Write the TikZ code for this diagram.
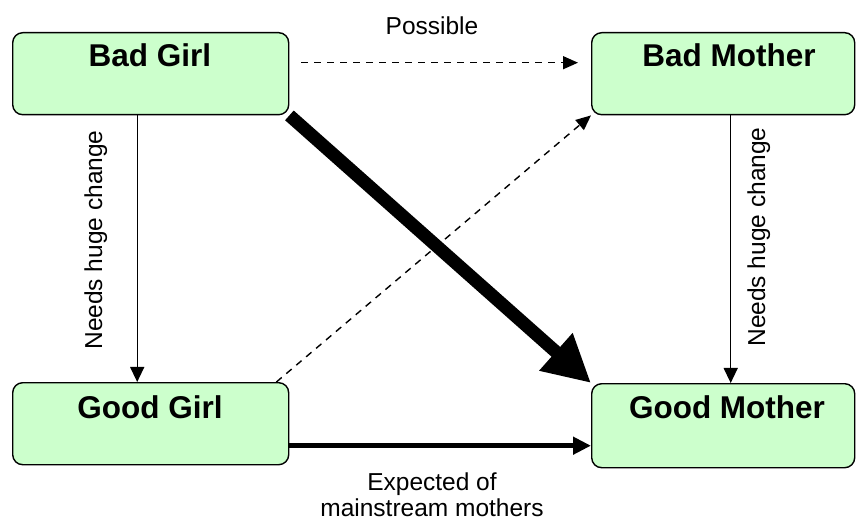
\documentclass[tikz,border=0pt]{standalone}
\usepackage{fontspec}
\setmainfont{Liberation Sans}
\usetikzlibrary{arrows.meta,calc}
\definecolor{boxgreen}{HTML}{CCFFCC}
\begin{document}
\begin{tikzpicture}[x=1pt,y=1pt,
  box/.style={draw=black, line width=1.4pt, fill=boxgreen, rounded corners=10pt,
              inner sep=0pt, anchor=north west},
  title/.style={font=\fontsize{31.5}{36}\selectfont\bfseries, anchor=base, inner sep=0pt},
  lbl/.style={font=\fontsize{24.5}{26.7}\selectfont, inner sep=0pt},
  plainarrow/.style={line width=1.4pt, -{Triangle[length=15pt,width=14pt]}},
  dasharrow/.style={line width=1.4pt, dash pattern=on 7pt off 6pt,
                    -{Triangle[length=15pt,width=13pt]}},
  heavyarrow/.style={line width=13pt, -{Triangle[length=47pt,width=47pt]}},
  boldarrow/.style={line width=4.5pt, -{Triangle[length=18pt,width=17pt]}}
]
\useasboundingbox (0,0) rectangle (857,-521);

% the four states
\node[box, minimum width=276pt, minimum height=82pt] (bg) at (12,-32) {};
\node[box, minimum width=263pt, minimum height=82pt] (bm) at (591,-32) {};
\node[box, minimum width=276pt, minimum height=82pt] (gg) at (12,-382) {};
\node[box, minimum width=263pt, minimum height=84pt] (gm) at (591,-383) {};

\node[title] (bgt) at (150,-67) {Bad Girl};
\node[title] (bmt) at (729,-67) {Bad Mother};
\node[title] (ggt) at (150,-418) {Good Girl};
\node[title] (gmt) at (727,-418) {Good Mother};

% connector end points
\coordinate (bgdown) at ($(bg.south)+(-13.5,0)$);
\coordinate (bmdown) at ($(bm.south)+(7.5,0)$);
\coordinate (possA) at ($(bg.east)+(12,11)$);
\coordinate (possB) at ($(bm.west)+(-13,11)$);
\coordinate (ggcorner) at ($(gg.north east)+(-13,0)$);
\coordinate (expA) at ($(gg.east)+(0,-22)$);

% connectors
\draw[dasharrow] (possA) -- (possB);
\draw[plainarrow] (bgdown) -- (bgdown |- gg.north);
\draw[plainarrow] (bmdown) -- (bmdown |- gm.north);
\draw[dasharrow] (ggcorner) -- (bm.south west);
\draw[heavyarrow] (bg.south east) -- (gm.north west);
\draw[boldarrow] (expA) -- (expA -| gm.west);

% labels
\node[lbl, anchor=base] (possible) at (432,-35) {Possible};
\node[lbl, rotate=90, anchor=base] (needsL) at (102,-240) {Needs huge change};
\node[lbl, rotate=90, anchor=base] (needsR) at (765,-237) {Needs huge change};
\node[lbl, align=center, anchor=base] (expected) at (432,-516.7) {Expected of\\mainstream mothers};
\end{tikzpicture}
\end{document}
